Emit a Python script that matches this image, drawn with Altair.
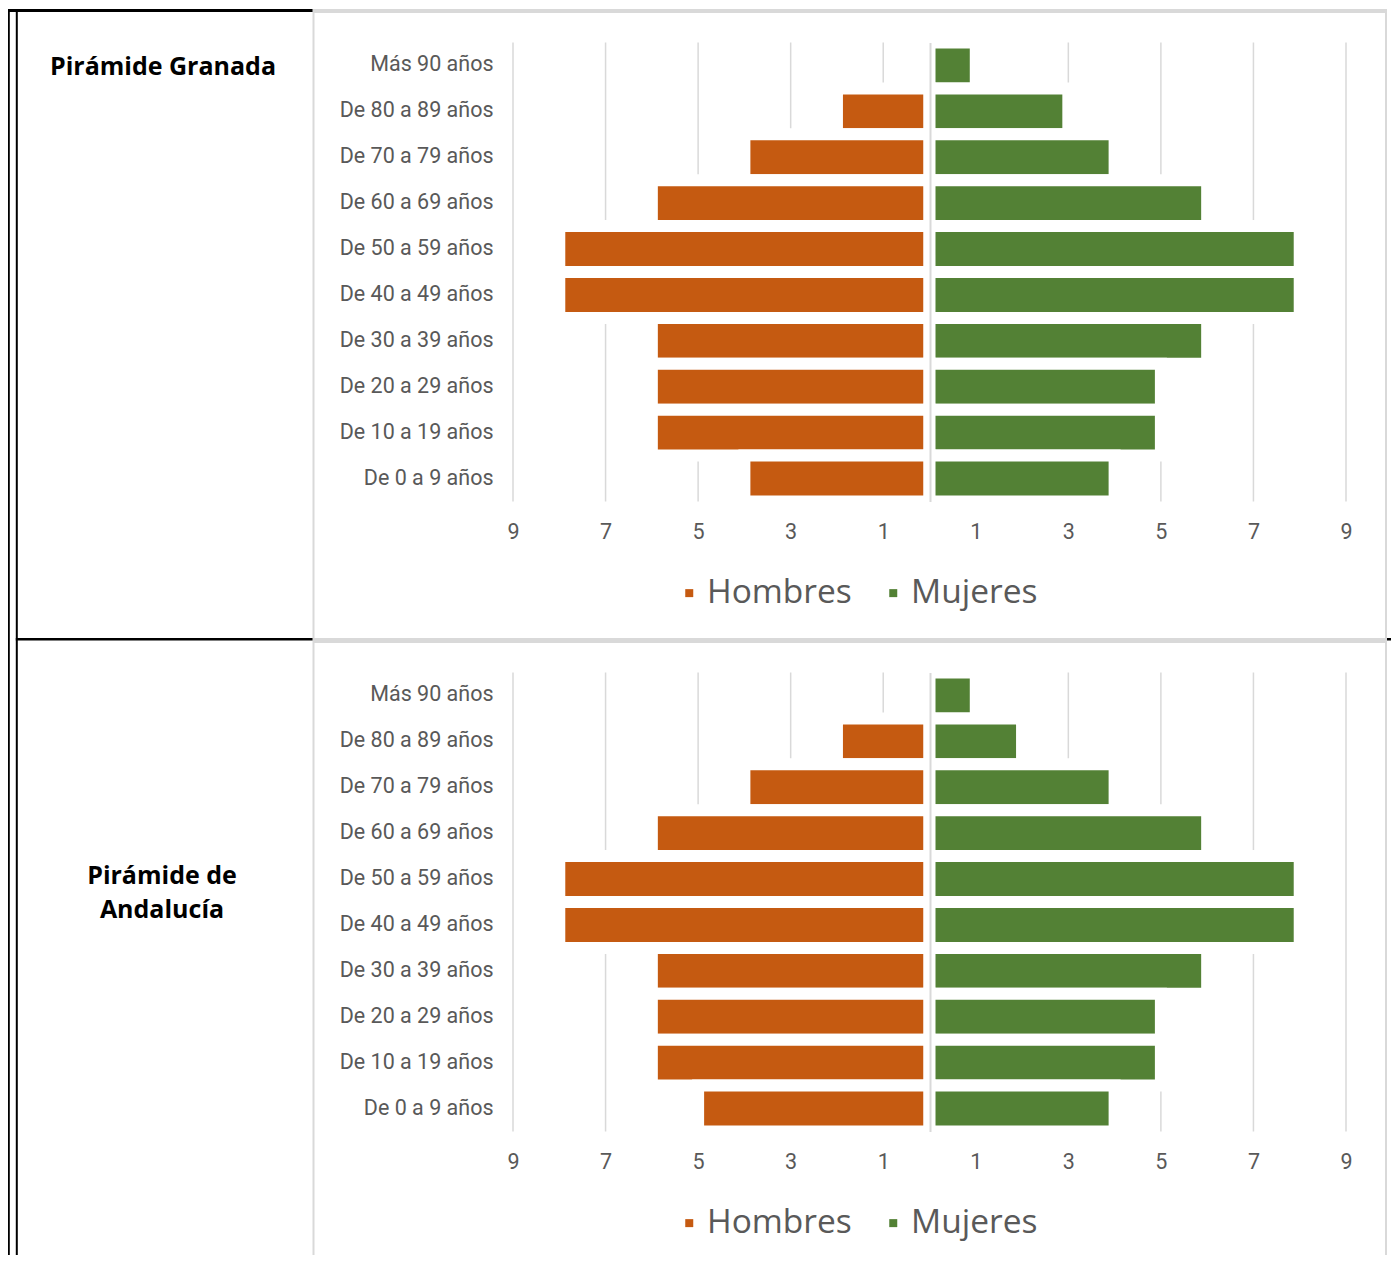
import altair as alt
import pandas as pd

# ---------------- data ----------------
ages = ["Más 90 años", "De 80 a 89 años", "De 70 a 79 años", "De 60 a 69 años",
        "De 50 a 59 años", "De 40 a 49 años", "De 30 a 39 años", "De 20 a 29 años",
        "De 10 a 19 años", "De 0 a 9 años"]
granada_hombres = [0, 2, 4, 6, 8, 8, 6, 6, 6, 4]
granada_mujeres = [1, 3, 4, 6, 8, 8, 6, 5, 5, 4]
andalucia_hombres = [0, 2, 4, 6, 8, 8, 6, 6, 6, 5]
andalucia_mujeres = [1, 2, 4, 6, 8, 8, 6, 5, 5, 4]
sexes = ["Hombres", "Mujeres"]
x_ticks = [-9, -7, -5, -3, -1, 1, 3, 5, 7, 9]
titles = ["Pirámide Granada", "Pirámide de\nAndalucía"]

# ---------------- style ----------------
ORANGE = "#C55A11"
GREEN = "#538135"
GRID = "#D9D9D9"
TXT = "#595959"
LABEL_FONT = "Roboto"
LABEL_SIZE = 21.5
W = 1383
Y_TOP, Y_BOT = 34.5, 493.5


def frame(hombres, mujeres):
    rows = []
    for a, h, m in zip(ages, hombres, mujeres):
        rows.append({"edad": a, "sexo": "Hombres", "valor": -h})
        rows.append({"edad": a, "sexo": "Mujeres", "valor": m})
    return pd.DataFrame(rows)


def band(x1, x2, y1, y2, color):
    # decorative table / frame border line, drawn as a thin filled rectangle
    return alt.Chart(alt.Data(values=[{}])).mark_rect(color=color).encode(
        x=alt.value(x1), x2=alt.value(x2), y=alt.value(y1), y2=alt.value(y2)
    )


X_SCALE = alt.Scale(domain=[-9, 9], range=[505, 1338], nice=False)


def x_axis(height):
    return alt.Axis(
        values=x_ticks, labelExpr="abs(datum.value)", title=None,
        domain=False, ticks=False, tickSize=0, grid=False,
        labelFont=LABEL_FONT, labelFontSize=LABEL_SIZE, labelColor=TXT,
        labelPadding=31, labelBaseline="middle",
        offset=-(height - Y_BOT), labelFlush=False, labelOverlap=False,
    )


def pyramid(df, height):
    grid = alt.Chart(pd.DataFrame({"tick": x_ticks})).mark_rule(
        color=GRID, strokeWidth=1.5
    ).encode(
        x=alt.X("tick:Q", scale=X_SCALE, axis=x_axis(height)),
        y=alt.value(Y_TOP), y2=alt.value(Y_BOT),
    )
    bars = alt.Chart(df).mark_bar(stroke="white", strokeWidth=12).encode(
        x=alt.X("valor:Q", scale=X_SCALE, axis=x_axis(height)),
        y=alt.Y(
            "edad:N", sort=ages,
            scale=alt.Scale(range=[Y_TOP, Y_BOT], paddingInner=0, paddingOuter=0),
            axis=alt.Axis(
                title=None, orient="left", offset=-922, domain=True,
                domainColor=GRID, domainWidth=2, ticks=False, tickSize=0,
                labelPadding=437, labelFont=LABEL_FONT, labelFontSize=LABEL_SIZE,
                labelColor=TXT, labelLimit=0, zindex=1, grid=False,
            ),
        ),
        color=alt.Color(
            "sexo:N",
            scale=alt.Scale(domain=sexes, range=[ORANGE, GREEN]),
            legend=alt.Legend(
                title=None, orient="none", legendX=664.5, legendY=568,
                direction="horizontal", symbolType="square", symbolSize=64,
                symbolStrokeWidth=0, labelFont="Open Sans", labelFontSize=33.5,
                labelColor=TXT, labelOffset=1, columnPadding=24, padding=0,
                labelLimit=0,
            ),
        ),
    )
    return grid + bars


def title_text(t, x, y):
    return alt.Chart(pd.DataFrame({"t": [t]})).mark_text(
        font="Open Sans", fontSize=25, fontWeight="bold", color="black",
        align="center", baseline="middle", lineBreak="\n", lineHeight=34,
    ).encode(x=alt.value(x), y=alt.value(y), text="t:N")


H1 = 630
H2 = 617

row1 = alt.layer(
    pyramid(frame(granada_hombres, granada_mujeres), H1),
    title_text(titles[0], 155, 59),
    band(0, 1.8, 1, H1, "black"),
    band(7.8, 9.8, 1, H1, "black"),
    band(0, 305, 1, 4, "black"),
    band(305, 1379, 1, 5, GRID),
    band(304.5, 306.5, 1, H1, GRID),
    band(1377, 1379, 1, H1, GRID),
).properties(width=W, height=H1)

row2 = alt.layer(
    pyramid(frame(andalucia_hombres, andalucia_mujeres), H2),
    title_text(titles[1], 154, 238),
    band(0, 1.8, 0, H2, "black"),
    band(7.8, 9.8, 0, H2, "black"),
    band(7.8, 305, 0, 2.5, "black"),
    band(305, 1379, 0, 5, GRID),
    band(304.5, 306.5, 0, H2, GRID),
    band(1377, 1379, 0, H2, GRID),
    band(1379, 1383, 0, 2.5, "black"),
).properties(width=W, height=H2)

chart = (
    alt.vconcat(row1, row2, spacing=0, bounds="flush")
    .resolve_scale(x="independent", y="independent", color="independent")
    .resolve_legend(color="independent")
    .properties(padding=0)
    .configure_view(strokeOpacity=0)
)

chart.save("out.html", embed_options={"renderer": "svg", "actions": False})
